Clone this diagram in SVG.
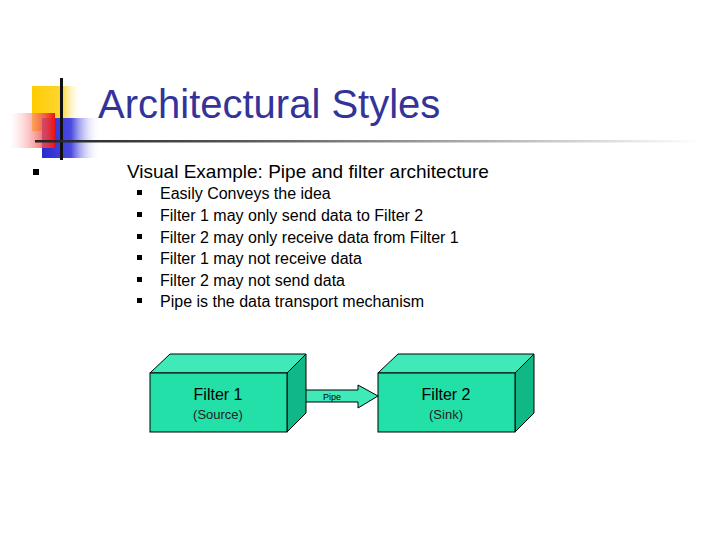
<svg xmlns="http://www.w3.org/2000/svg" width="720" height="540" viewBox="0 0 720 540">
<defs>
<linearGradient id="hl" x1="0" x2="1"><stop offset="0" stop-color="#222"/><stop offset="0.3" stop-color="#555"/><stop offset="1" stop-color="#fff"/></linearGradient>
<linearGradient id="bl" x1="0" x2="1"><stop offset="0" stop-color="#2a2ad0"/><stop offset="0.5" stop-color="#4a4ae0"/><stop offset="1" stop-color="#fff" stop-opacity="0"/></linearGradient>
<linearGradient id="yl" x1="0" x2="1"><stop offset="0" stop-color="#ffcc00"/><stop offset="0.6" stop-color="#ffd633"/><stop offset="1" stop-color="#fff" stop-opacity="0"/></linearGradient>
<linearGradient id="rd" x1="1" x2="0"><stop offset="0" stop-color="#ee1111"/><stop offset="1" stop-color="#fff" stop-opacity="0.3"/></linearGradient>
<style>
.t{font-family:"Liberation Sans",Tahoma,sans-serif}
.front{fill:#22e0a8;stroke:#000;stroke-width:1}
.top{fill:#40eab8;stroke:#000;stroke-width:1}
.side{fill:#10b888;stroke:#000;stroke-width:1}
.b{fill:#000}
</style>
</defs>
<rect width="720" height="540" fill="#fff"/>
<g id="logo">
<rect x="32" y="86" width="50" height="45" fill="url(#yl)"/>
<rect x="42" y="118" width="58" height="40" fill="url(#bl)"/>
<rect x="10" y="113" width="45" height="35" fill="url(#rd)"/>
<rect x="60" y="78" width="3" height="82" fill="#111"/>
<rect x="35" y="140" width="665" height="2.5" fill="url(#hl)"/>
</g>
<text class="t" x="98" y="118" font-size="40" fill="#333399">Architectural Styles</text>
<rect class="b" x="33" y="169" width="6" height="6"/>
<text class="t" x="127" y="178" font-size="19" fill="#000">Visual Example: Pipe and filter architecture</text>
<g class="t" font-size="16" fill="#000">
<rect class="b" x="137" y="190" width="5" height="5"/><text x="160" y="199">Easily Conveys the idea</text>
<rect class="b" x="137" y="212" width="5" height="5"/><text x="160" y="221">Filter 1 may only send data to Filter 2</text>
<rect class="b" x="137" y="234" width="5" height="5"/><text x="160" y="243">Filter 2 may only receive data from Filter 1</text>
<rect class="b" x="137" y="255" width="5" height="5"/><text x="160" y="264">Filter 1 may not receive data</text>
<rect class="b" x="137" y="277" width="5" height="5"/><text x="160" y="286">Filter 2 may not send data</text>
<rect class="b" x="137" y="298" width="5" height="5"/><text x="160" y="307">Pipe is the data transport mechanism</text>
</g>
<g id="connectors">
<path class="top" d="M300 390 H358 V385 L378 396 L358 408 V402 H300 Z"/>
<text class="t" x="332" y="400" font-size="9" text-anchor="middle" fill="#000">Pipe</text>
</g>
<g id="filter1">
<path class="top" d="M150 373 L170 354 H306 L287 373 Z"/>
<path class="side" d="M287 373 L306 354 V413 L287 432 Z"/>
<rect class="front" x="150" y="373" width="137" height="59"/>
<text class="t" x="218" y="400" font-size="16" text-anchor="middle">Filter 1</text>
<text class="t" x="218" y="419" font-size="13" text-anchor="middle" fill="#222">(Source)</text>
</g>
<g id="filter2">
<path class="top" d="M378 373 L398 354 H534 L515 373 Z"/>
<path class="side" d="M515 373 L534 354 V413 L515 432 Z"/>
<rect class="front" x="378" y="373" width="137" height="59"/>
<text class="t" x="446" y="400" font-size="16" text-anchor="middle">Filter 2</text>
<text class="t" x="446" y="419" font-size="13" text-anchor="middle" fill="#222">(Sink)</text>
</g>
</svg>
